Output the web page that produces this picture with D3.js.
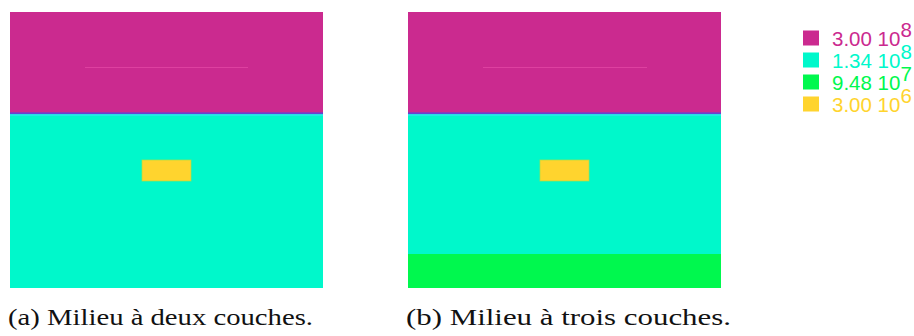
<!DOCTYPE html>
<html><head><meta charset="utf-8">
<script src="https://cdn.jsdelivr.net/npm/d3@7"></script>
<style>
html,body{margin:0;padding:0;background:#fff;}
svg{display:block;}
</style></head>
<body>
<svg id="chart" width="914" height="336"></svg>
<script>
// ---- data ----
const legendValues = [3.00e8, 1.34e8, 9.48e7, 3.00e6];
const legendMantissa = ["3.00", "1.34", "9.48", "3.00"];
const legendExponent = ["8", "8", "7", "6"];
const legendColors = ["#cb2a8f", "#00f8cb", "#00f84e", "#ffd42e"];

const panelNames = ["(a) Milieu à deux couches.", "(b) Milieu à trois couches."];
// grid domain (cells)
const gridWidth = 313, gridHeight = 276;
// layers: [top, bottom, value]
const layersA = [[0, 102, 3.00e8], [102, 276, 1.34e8]];
const layersB = [[0, 102, 3.00e8], [102, 242, 1.34e8], [242, 276, 9.48e7]];
// inclusion: [x0, x1, y0, y1, value]
const inclusionA = [132, 181, 148, 169, 3.00e6];
const inclusionB = [132, 181, 148, 169, 3.00e6];
// faint source line: [x0, x1, y]
const sourceLineA = [75, 238, 55];
const sourceLineB = [75, 239, 55];
const interfaceA = 102, interfaceB = 102;

// ---- drawing ----
const svg = d3.select("#chart");
const color = d3.scaleOrdinal().domain(legendValues).range(legendColors);

const panels = [
  {x: 10, layers: layersA, inc: inclusionA, line: sourceLineA, iface: interfaceA, name: panelNames[0], capW: 305},
  {x: 408, layers: layersB, inc: inclusionB, line: sourceLineB, iface: interfaceB, name: panelNames[1], capW: 325}
];

panels.forEach(p => {
  const xs = d3.scaleLinear().domain([0, gridWidth]).range([p.x, p.x + 313]);
  const ys = d3.scaleLinear().domain([0, gridHeight]).range([12, 288]);
  const g = svg.append("g");
  g.selectAll("rect.layer").data(p.layers).join("rect")
    .attr("class", "layer")
    .attr("x", xs(0)).attr("width", xs(gridWidth) - xs(0))
    .attr("y", d => ys(d[0])).attr("height", d => ys(d[1]) - ys(d[0]))
    .attr("fill", d => color(d[2]));
  // interface band
  g.append("rect").attr("x", xs(0)).attr("width", xs(gridWidth) - xs(0))
    .attr("y", ys(p.iface) - 1.6).attr("height", 1.8).attr("fill", "#5a46d8").attr("opacity", 0.9);
  g.append("rect").attr("x", xs(0)).attr("width", xs(gridWidth) - xs(0))
    .attr("y", ys(p.iface) + 0.2).attr("height", 1.6).attr("fill", "#38e0f4").attr("opacity", 0.8);
  // source line
  g.append("line")
    .attr("x1", xs(p.line[0])).attr("x2", xs(p.line[1]))
    .attr("y1", ys(p.line[2]) + 0.5).attr("y2", ys(p.line[2]) + 0.5)
    .attr("stroke", "#de40a0").attr("stroke-width", 1);
  // inclusion
  const inc = p.inc;
  g.append("rect")
    .attr("x", xs(inc[0])).attr("width", xs(inc[1]) - xs(inc[0]))
    .attr("y", ys(inc[2])).attr("height", ys(inc[3]) - ys(inc[2]))
    .attr("fill", color(inc[4]))
    .attr("stroke", "#a8e048").attr("stroke-width", 1).attr("stroke-opacity", 0.7);
  // caption
  g.append("text")
    .attr("x", p.x - 2).attr("y", 325)
    .attr("font-family", "'Liberation Serif', 'Times New Roman', serif")
    .attr("font-size", 22.5)
    .attr("fill", "#111")
    .attr("textLength", p.capW).attr("lengthAdjust", "spacingAndGlyphs")
    .text(p.name);
});

// legend
const ly = d3.scalePoint().domain(d3.range(legendValues.length)).range([38, 104]);
const lg = svg.append("g");
const rows = lg.selectAll("g").data(legendValues).join("g")
  .attr("transform", (d, i) => `translate(803,${ly(i)})`);
rows.append("rect").attr("x", 0).attr("y", -7.5).attr("width", 16).attr("height", 15)
  .attr("fill", d => color(d));
const t = rows.append("text").attr("x", 29).attr("y", 7.5)
  .attr("font-family", "'Liberation Sans', Arial, sans-serif")
  .attr("font-size", 20.5)
  .attr("fill", d => color(d));
t.append("tspan").text((d, i) => legendMantissa[i] + " 10");
t.append("tspan").attr("dy", -8.5).text((d, i) => legendExponent[i]);
</script>
</body></html>
